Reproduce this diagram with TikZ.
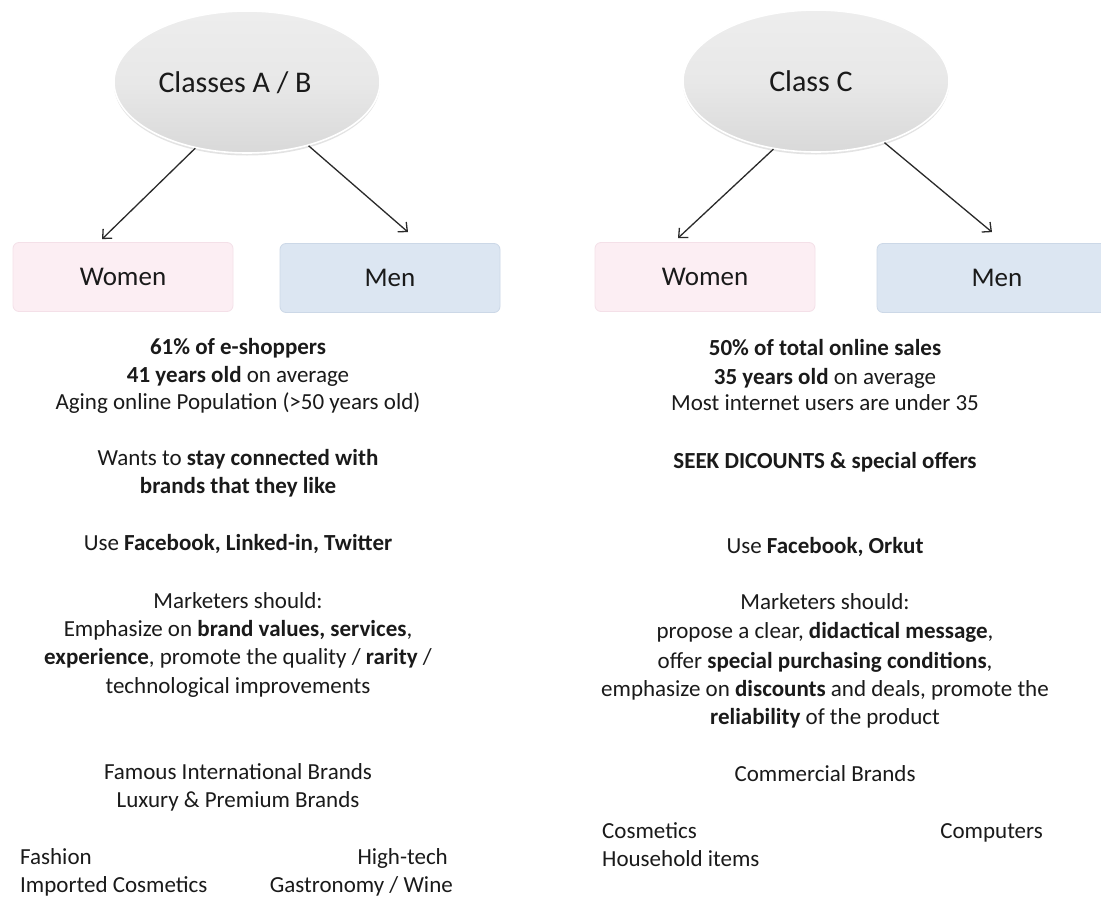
\documentclass[tikz,border=0pt]{standalone}
\usepackage{fontspec}
\setmainfont{Carlito}
\usetikzlibrary{arrows.meta,shadows,shapes.geometric}
\definecolor{txt}{HTML}{1A1A1A}
\definecolor{pinkfill}{HTML}{FCEEF3}
\definecolor{pinkline}{HTML}{F4E0E8}
\definecolor{bluefill}{HTML}{DCE6F2}
\definecolor{blueline}{HTML}{CCD8E7}
\definecolor{arrowc}{HTML}{2A2A2A}
\begin{document}
\begin{tikzpicture}[x=1pt,y=-1pt,
  ell/.style={ellipse, minimum width=266pt, minimum height=142pt, inner sep=0pt,
    top color=gray!14, bottom color=gray!30, middle color=gray!18, draw=white, line width=1.6pt,
    drop shadow={opacity=0.22, shadow xshift=0pt, shadow yshift=-2.5pt}},
  elltext/.style={font=\fontsize{30}{36}\selectfont, text=txt, inner sep=0pt, anchor=base},
  wbox/.style={rectangle, rounded corners=6pt, minimum width=220pt, minimum height=69pt,
    fill=pinkfill, draw=pinkline, line width=0.8pt, text=txt, font=\fontsize{27}{32}\selectfont},
  mbox/.style={rectangle, rounded corners=6pt, minimum width=220pt, minimum height=69pt,
    fill=bluefill, draw=blueline, line width=0.8pt, text=txt, font=\fontsize{27}{32}\selectfont},
  arr/.style={draw=arrowc, line width=1.3pt, -{Straight Barb[length=7pt,width=13pt]}},
  body/.style={font=\fontsize{23}{28}\selectfont, text=txt, inner sep=0pt, anchor=base},
  bodyl/.style={body, anchor=base west},
  bodyr/.style={body, anchor=base east}
]
\clip (0,0) rectangle (1101,897);
\fill[white] (0,0) rectangle (1101,897);

% ---- left group
\node[ell] (eL) at (247,82) {};
\node[elltext] (tL) at (235,92) {Classes A / B};
\node[wbox] (wL) at (123,277) {Women};
\node[mbox] (mL) at (390,278) {Men};
\draw[arr] (eL.232) -- ([xshift=-21pt,yshift=3pt]wL.north);
\draw[arr] (eL.314) -- ([xshift=18pt,yshift=11pt]mL.north);

% ---- right group
\node[ell] (eR) at (816,81) {};
\node[elltext] (tR) at (811,91) {Class C};
\node[wbox] (wR) at (705,277) {Women};
\node[mbox, minimum width=240pt] (mR) at (997,278) {Men};
\draw[arr] (eR.238) -- ([xshift=-27pt,yshift=4pt]wR.north);
\draw[arr] (eR.318) -- ([xshift=-5pt,yshift=11pt]mR.north);

% ---- left text
\node[body] (l1) at (238,354) {\textbf{61\% of e-shoppers}};
\node[body] (l2) at (238,382) {\textbf{41 years old} on average};
\node[body] (l3) at (238,409) {Aging online Population (>50 years old)};
\node[body] (l4) at (238,465) {Wants to \textbf{stay connected with}};
\node[body] (l5) at (238,493) {\textbf{brands that they like}};
\node[body] (l6) at (238,550) {Use \textbf{Facebook, Linked-in, Twitter}};
\node[body] (l7) at (238,608) {Marketers should:};
\node[body] (l8) at (238,636) {Emphasize on \textbf{brand values, services},};
\node[body] (l9) at (238,664) {\textbf{experience}, promote the quality / \textbf{rarity} /};
\node[body] (l10) at (238,693) {technological improvements};
\node[body] (l11) at (238,779) {Famous International Brands};
\node[body] (l12) at (238,807) {Luxury \& Premium Brands};
\node[bodyl] (l13) at (20,864) {Fashion};
\node[bodyl] (l14) at (20,892) {Imported Cosmetics};
\node[bodyr] (l15) at (448,864) {High-tech};
\node[bodyr] (l16) at (453,892) {Gastronomy / Wine};

% ---- right text
\node[body] (r1) at (825,355) {\textbf{50\% of total online sales}};
\node[body] (r2) at (825,384) {\textbf{35 years old} on average};
\node[body] (r3) at (825,410) {Most internet users are under 35};
\node[body] (r4) at (825,468) {\textbf{SEEK DICOUNTS \& special offers}};
\node[body] (r5) at (825,553) {Use \textbf{Facebook, Orkut}};
\node[body] (r6) at (825,609) {Marketers should:};
\node[body] (r7) at (825,638) {propose a clear, \textbf{didactical message},};
\node[body] (r8) at (825,668) {offer \textbf{special purchasing conditions},};
\node[body] (r9) at (825,696) {emphasize on \textbf{discounts} and deals, promote the};
\node[body] (r10) at (825,724) {\textbf{reliability} of the product};
\node[body] (r11) at (825,781) {Commercial Brands};
\node[bodyl] (r12) at (602,838) {Cosmetics};
\node[bodyl] (r13) at (602,866) {Household items};
\node[bodyr] (r14) at (1043,838) {Computers};
\end{tikzpicture}
\end{document}
